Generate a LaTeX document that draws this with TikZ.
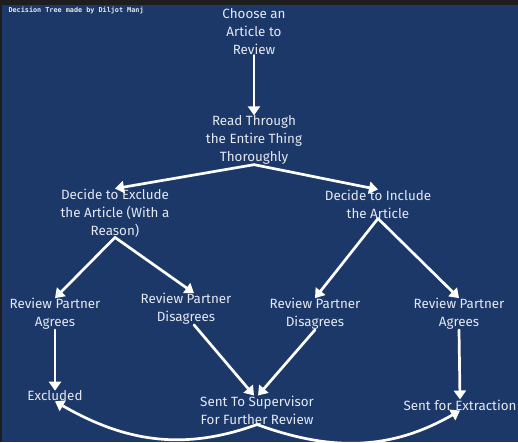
\documentclass[tikz,border=0pt]{standalone}
\usepackage{fontspec}
\setmainfont{Fira Sans}
\newfontfamily\titlefont{DejaVu Sans Mono}
\usetikzlibrary{arrows.meta}
\definecolor{bgblue}{RGB}{28,56,104}
\definecolor{edgegray}{RGB}{30,30,30}
\definecolor{txtgray}{RGB}{228,232,240}
\tikzset{
	step box/.style={text=txtgray,align=center,inner sep=0pt,font=\fontsize{13.4}{18}\selectfont},
	flow/.style={white,line width=2.7pt,-{Triangle[width=12pt,length=9pt]}}
}
\begin{document}
\begin{tikzpicture}[x=1pt,y=-1pt,line join=round,line cap=round]
			\fill[edgegray] (0,0) rectangle (518,442);
			\fill[bgblue] (2,5) rectangle (518,442);
			\useasboundingbox (0,0) rectangle (518,442);
			\node[anchor=west,text=txtgray,font=\titlefont\bfseries\fontsize{6.8}{8}\selectfont] (title) at (5,10) {Decision Tree made by Diljot Manj};
			%Bước đầu
			\node[step box] (choose) at (254,32) {Choose an\\Article to\\Review};
			\node[step box] (read) at (254,140) {Read Through\\the Entire Thing\\Thoroughly};
			%Hai nhánh
			\node[step box] (excl) at (115,213) {Decide to Exclude\\the Article (With a\\Reason)};
			\node[step box] (incl) at (378,204) {Decide to Include\\the Article};
			%Đối tác
			\node[step box] (agreeL) at (55,314) {Review Partner\\Agrees};
			\node[step box] (disL) at (186,309) {Review Partner\\Disagrees};
			\node[step box] (disR) at (315,314) {Review Partner\\Disagrees};
			\node[step box] (agreeR) at (459,314) {Review Partner\\Agrees};
			%Kết quả
			\node[step box] (out) at (55,396) {Excluded};
			\node[step box] (sup) at (257,410) {Sent To Supervisor\\For Further Review};
			\node[step box] (ext) at (460,405) {Sent for Extraction};
			%Mũi tên
			\draw[flow] (choose.south) -- (read.north);
			\draw[flow] (read.south) -- (excl.north);
			\draw[flow] (read.south) -- (incl.north);
			\draw[flow] (excl.south) -- (agreeL.north);
			\draw[flow] (excl.south) -- ([xshift=8pt]disL.north);
			\draw[flow] (incl.south) -- (disR.north);
			\draw[flow] (incl.south) -- (agreeR.north);
			\draw[flow] (agreeL.south) -- (out.north);
			\draw[flow] ([xshift=8pt]disL.south) -- ([xshift=-3pt]sup.north);
			\draw[flow] (disR.south) -- ([xshift=1pt]sup.north);
			\draw[flow] (agreeR.south) -- (ext.north);
			\draw[flow] (sup.south) to[out=200,in=-30] (out.south);
			\draw[flow] (sup.south) to[out=-20,in=210] (ext.south);
		\end{tikzpicture}
\end{document}
